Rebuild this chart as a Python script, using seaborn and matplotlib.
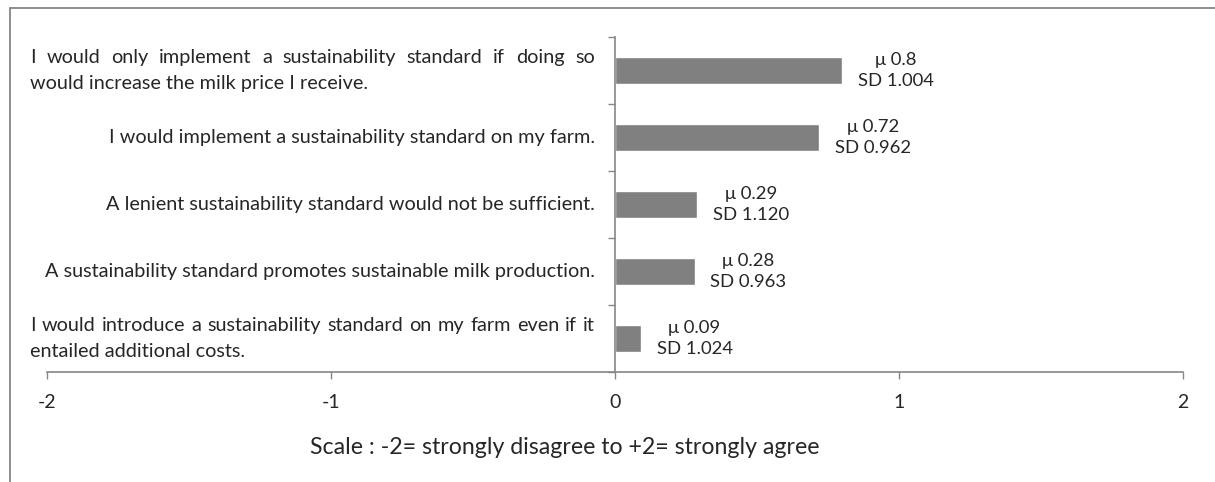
import matplotlib
matplotlib.use("Agg")
import matplotlib.pyplot as plt
import matplotlib.transforms as mtransforms
from matplotlib.lines import Line2D
import seaborn as sns
import pandas as pd

# ---- data ----
statements = [
    "I would only implement a sustainability standard if doing so\nwould increase the milk price I receive.",
    "I would implement a sustainability standard on my farm.",
    "A lenient sustainability standard would not be sufficient.",
    "A sustainability standard promotes sustainable milk production.",
    "I would introduce a sustainability standard on my farm even if it\nentailed additional costs.",
]
means = [0.8, 0.72, 0.29, 0.28, 0.09]
sds = [1.004, 0.962, 1.120, 0.963, 1.024]
xticks = [-2, -1, 0, 1, 2]
xlabel = "Scale : -2= strongly disagree to +2= strongly agree"

sns.set_style("white")
plt.rcParams["font.family"] = ["Lato", "DejaVu Sans"]
FS_LAB = 14.3
FS_VAL = 13.3
FS_TICK = 14
FS_XLAB = 16.7
GRAY = "#868686"
BAR = "#808080"

W, H = 1215, 482
fig = plt.figure(figsize=(W / 100, H / 100), dpi=100)
ax = fig.add_axes([47 / W, 1 - 372 / H, (1183 - 47) / W, (372 - 37) / H])

df = pd.DataFrame({"statement": statements, "mean": means})
sns.barplot(data=df, x="mean", y="statement", orient="h", color=BAR,
            saturation=1, width=0.39, ax=ax)

ax.set_xlim(-2, 2)
ax.set_ylim(len(statements) - 0.5, -0.5)
ax.set_xticks(xticks)
ax.set_xticklabels([str(t) for t in xticks], fontsize=FS_TICK)
ax.tick_params(axis="x", direction="out", length=5, width=1, color=GRAY,
               pad=11, bottom=True)
ax.set_yticks([])
ax.set_yticks([i - 0.5 for i in range(len(statements) + 1)], minor=True)
ax.tick_params(axis="y", which="minor", direction="out", length=5, width=1,
               color=GRAY, left=True)
ax.set_ylabel("")
for s in ["top", "right"]:
    ax.spines[s].set_visible(False)
ax.spines["left"].set_position(("data", 0))
for s in ["left", "bottom"]:
    ax.spines[s].set_color(GRAY)
    ax.spines[s].set_linewidth(1.2)

ax.set_xlabel(xlabel, fontsize=FS_XLAB, va="center")
ax.xaxis.set_label_coords(565 / W, 1 - 447 / H, transform=fig.transFigure)

# value annotations
for i, (m, sd) in enumerate(zip(means, sds)):
    tr = mtransforms.offset_copy(ax.transData, fig=fig, x=54, y=0, units="dots")
    ax.text(m, i, f"\u03bc {m:g}\nSD {sd:.3f}", transform=tr, ha="center",
            va="center", fontsize=FS_VAL, linespacing=1.45)

# statement labels
renderer = fig.canvas.get_renderer()
blend = mtransforms.blended_transform_factory(fig.transFigure, ax.transData)
LEFT_PX, RIGHT_PX = 30, 595
for i, text in enumerate(statements):
    lines = text.split("\n")
    if len(lines) == 1:
        ax.text(RIGHT_PX / W, i, text, transform=blend, ha="right",
                va="center", fontsize=FS_LAB)
        continue
    n = len(lines)
    for k, line in enumerate(lines):
        dy = (((n - 1) / 2) - k) * 26
        tr = mtransforms.offset_copy(blend, fig=fig, x=0, y=dy, units="dots")
        if k < n - 1:
            words = line.split()
            widths = []
            for w_ in words:
                t = fig.text(0, 0, w_, fontsize=FS_LAB)
                widths.append(t.get_window_extent(renderer).width)
                t.remove()
            gap = (RIGHT_PX - LEFT_PX - sum(widths)) / (len(words) - 1)
            x = LEFT_PX
            for w_, wd in zip(words, widths):
                ax.text(x / W, i, w_, transform=tr, ha="left", va="center",
                        fontsize=FS_LAB)
                x += wd + gap
        else:
            ax.text(LEFT_PX / W, i, line, transform=tr, ha="left",
                    va="center", fontsize=FS_LAB)

# outer frame (left and top)
fig.add_artist(Line2D([9.5 / W, 9.5 / W], [0, 1 - 7.5 / H],
                      transform=fig.transFigure, color=GRAY, lw=1.3))
fig.add_artist(Line2D([9.5 / W, 1], [1 - 7.5 / H, 1 - 7.5 / H],
                      transform=fig.transFigure, color=GRAY, lw=1.3))

fig.savefig("out.png", dpi=100)
